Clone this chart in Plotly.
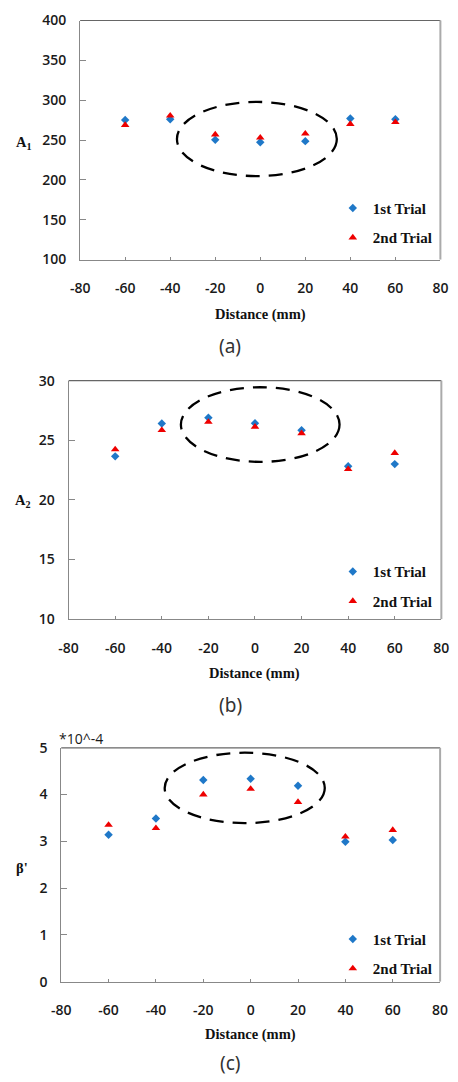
import plotly.graph_objects as go

# ---------------- data ----------------
distance = [-60, -40, -20, 0, 20, 40, 60]

a1_trial1 = [275.2, 276.0, 250.2, 247.3, 248.6, 276.9, 276.0]
a1_trial2 = [268.7, 280.6, 256.8, 253.0, 258.0, 270.0, 272.4]

a2_trial1 = [23.65, 26.40, 26.90, 26.43, 25.85, 22.83, 23.00]
a2_trial2 = [24.23, 25.85, 26.54, 26.13, 25.58, 22.58, 23.93]

beta_trial1 = [3.14, 3.49, 4.31, 4.34, 4.19, 2.99, 3.03]
beta_trial2 = [3.35, 3.28, 4.00, 4.12, 3.84, 3.10, 3.24]

x_ticks = [-80, -60, -40, -20, 0, 20, 40, 60, 80]
x_tick_labels = ["-80", "-60", "-40", "-20", "0", "20", "40", "60", "80"]

series_names = ["1st Trial", "2nd Trial"]
panel_labels = ["(a)", "(b)", "(c)"]
y_titles = ["A<sub>1</sub>", "A<sub>2</sub>", "β'"]
x_title = "Distance (mm)"

# highlight ellipses (data units: x0, x1, y0, y1)
ellipse_a = (-37, 34, 204.7, 297.8)
ellipse_b = (-31.8, 36.3, 23.19, 29.45)
ellipse_c = (-36.3, 31.3, 3.39, 4.895)

# ---------------- layout geometry (pixels) ----------------
W, H = 458, 1082
def px_x(p):
    return p / W
def px_y(p):
    return 1 - p / H

panels = [
    dict(left=73, right=448, top=10.7, bottom=254, yrange=[100, 400], dtick=50,
         t1=a1_trial1, t2=a1_trial2, ell=ellipse_a,
         ytitle_xy=(15, 135), xtitle_y=310, label_y=342, legend_y=185),
    dict(left=61, right=449, top=377.3, bottom=620, yrange=[10, 30], dtick=5,
         t1=a2_trial1, t2=a2_trial2, ell=ellipse_b,
         ytitle_xy=(14, 500), xtitle_y=675, label_y=707, legend_y=555),
    dict(left=53.3, right=447.7, top=751, bottom=989, yrange=[0, 5], dtick=1,
         t1=beta_trial1, t2=beta_trial2, ell=ellipse_c,
         ytitle_xy=(13, 873), xtitle_y=1043, label_y=1072, legend_y=929),
]

BLUE = "#1f78c8"
RED = "#ee0000"
serif_bold = dict(family="Liberation Serif", size=14.5, color="#111", weight="bold")
tick_font = dict(family="Open Sans", size=14, color="#1a1a1a", weight=600)

fig = go.Figure()
shapes = []
annotations = []
layout_axes = {}

for i, p in enumerate(panels):
    n = "" if i == 0 else str(i + 1)
    xa, ya = "x" + n, "y" + n
    leg = "legend" + n
    fig.add_trace(go.Scatter(
        x=distance, y=p["t1"], mode="markers", name=series_names[0],
        marker=dict(symbol="diamond", size=6.5, color=BLUE),
        xaxis=xa, yaxis=ya, legend=leg, legendgroup=f"g1_{i}"))
    fig.add_trace(go.Scatter(
        x=distance, y=p["t2"], mode="markers", name=series_names[1],
        marker=dict(symbol="triangle-up", size=7.5, color=RED),
        xaxis=xa, yaxis=ya, legend=leg, legendgroup=f"g2_{i}"))

    layout_axes["xaxis" + n] = dict(
        domain=[px_x(p["left"]), px_x(p["right"])], range=[-80, 80],
        anchor=ya, tickvals=x_ticks, ticktext=x_tick_labels,
        ticks="inside", ticklen=3, tickcolor="#888", showgrid=False, zeroline=False,
        showline=True, linecolor="#888", linewidth=1,
        tickfont=tick_font, ticklabelstandoff=16)
    layout_axes["yaxis" + n] = dict(
        domain=[px_y(p["bottom"]), px_y(p["top"])], range=p["yrange"], dtick=p["dtick"],
        anchor=xa, ticks="inside", ticklen=6, tickcolor="#888", showgrid=False,
        zeroline=False, showline=True, linecolor="#888", linewidth=1,
        tickfont=tick_font, ticklabelstandoff=10)

    # top and right borders
    shapes.append(dict(type="line", xref=xa + " domain", yref=ya + " domain",
                       x0=0, x1=1, y0=1, y1=1, line=dict(color="#666", width=1.2)))
    shapes.append(dict(type="line", xref=xa + " domain", yref=ya + " domain",
                       x0=1, x1=1, y0=0, y1=1, line=dict(color="#aaa", width=2)))
    # dashed ellipse
    x0, x1, y0, y1 = p["ell"]
    shapes.append(dict(type="circle", xref=xa, yref=ya, x0=x0, x1=x1, y0=y0, y1=y1,
                       line=dict(color="black", width=2.3, dash="14px,9px"), layer="above"))

    # legend
    layout_axes[leg] = dict(
        x=px_x(336), y=px_y(p["legend_y"]), xanchor="left", yanchor="top",
        bgcolor="rgba(0,0,0,0)", font=dict(family="Liberation Serif", size=15,
                                            color="#111", weight="bold"),
        tracegroupgap=7)

    # axis titles and panel label
    tx, ty = p["ytitle_xy"]
    annotations.append(dict(text=y_titles[i], x=px_x(tx), y=px_y(ty), xref="paper",
                            yref="paper", showarrow=False, font=serif_bold,
                            xanchor="center", yanchor="middle"))
    annotations.append(dict(text=x_title, x=px_x((p["left"] + p["right"]) / 2),
                            y=px_y(p["xtitle_y"]), xref="paper", yref="paper",
                            showarrow=False, font=serif_bold,
                            xanchor="center", yanchor="middle"))
    annotations.append(dict(text=panel_labels[i], x=px_x(229), y=px_y(p["label_y"]),
                            xref="paper", yref="paper", showarrow=False,
                            font=dict(family="Noto Sans", size=19, color="#333"),
                            xanchor="center", yanchor="middle"))

annotations.append(dict(text="*10^-4", x=px_x(49), y=px_y(742), xref="paper",
                        yref="paper", showarrow=False, xanchor="left", yanchor="middle",
                        font=dict(family="Open Sans", size=14, color="#1a1a1a")))

fig.update_layout(
    width=W, height=H, margin=dict(l=0, r=0, t=0, b=0),
    paper_bgcolor="white", plot_bgcolor="white", showlegend=True,
    shapes=shapes, annotations=annotations, **layout_axes)

fig.write_html("out.html")
